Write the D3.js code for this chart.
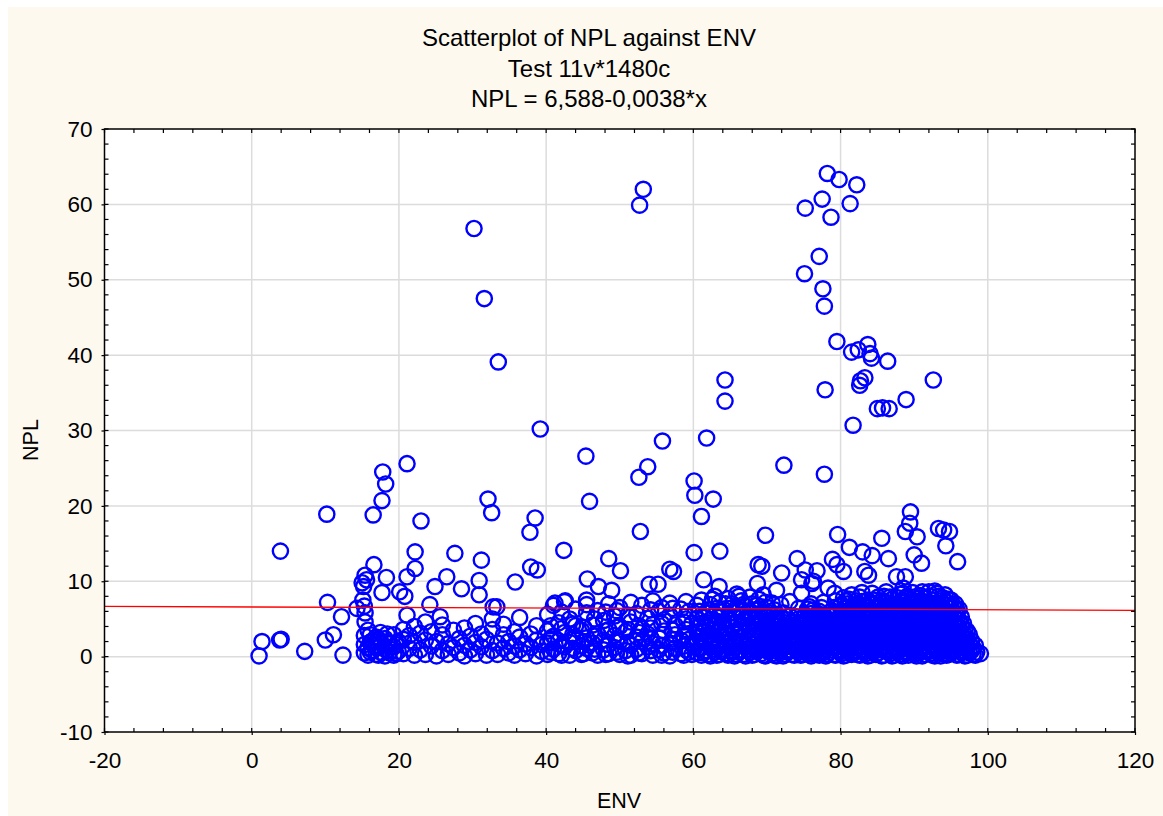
<!DOCTYPE html>
<html><head><meta charset="utf-8">
<script src="https://cdn.jsdelivr.net/npm/d3@7"></script>
<style>body{margin:0;background:#fff}svg{display:block}text{font-family:Arial,"Liberation Sans",sans-serif}</style>
</head><body><svg id="c" width="1163" height="816"></svg>
<script>
const titleLines = ["Scatterplot of NPL against ENV", "Test 11v*1480c", "NPL = 6,588-0,0038*x"];
const xLabel = "ENV", yLabel = "NPL";
const xTicks = [-20, 0, 20, 40, 60, 80, 100, 120];
const yTicks = [-10, 0, 10, 20, 30, 40, 50, 60, 70];
const fitIntercept = 6.588, fitSlope = -0.0038;

// dense band: [ENV, [NPL values...]]
const bandCols = [
[15.3,[0.5,1.6,2.8]],[15.8,[0.2,1.2,3.5]],[16.4,[0.8,2.1]],[16.9,[0.3,1.5,2.6]],[17.5,[0.6,1.9,3.2]],
[18.1,[0.1,1.0,2.4]],[18.7,[0.5,1.7]],[19.3,[0.2,1.3,2.9]],[19.9,[0.7,2.0]],
[20.6,[0.4,2.3,3.6]],[21.4,[1.1,2.8]],[22.1,[0.2,1.9,4.0]],[22.9,[0.9,3.1]],[23.6,[0.3,2.2,4.6]],
[24.4,[1.4,3.3]],[25.1,[0.1,2.0]],[25.9,[0.8,2.9,4.2]],[26.7,[0.3,1.7]],[27.4,[1.2,3.5]],
[28.2,[0.5,2.4]],[28.9,[0.1,1.5,3.8]],[29.7,[0.9,2.7]],[30.4,[0.4,1.9,4.4]],[31.2,[1.3,3.0]],
[31.9,[0.2,2.3]],[32.7,[0.8,3.6,5.0]],[33.4,[0.3,1.8]],[34.2,[1.1,2.9,4.3]],[34.9,[0.5,2.0]],
[35.7,[0.2,1.4,3.3]],[36.4,[0.9,2.6,5.2]],[37.2,[0.4,1.7]],[37.9,[1.2,3.0]],[38.7,[0.1,2.2,4.1]],[39.4,[0.7,1.6]],
[40.2,[0.3,1.8,3.4,5.6]],[41.0,[1.0,2.7,6.8]],[41.7,[0.4,2.1,4.5]],[42.5,[1.3,3.2,7.3]],[43.2,[0.2,1.9,5.0]],
[44.0,[0.8,2.6,4.1,6.3]],[44.8,[0.3,1.4,3.5]],[45.5,[1.1,2.5,5.8,7.5]],[46.3,[0.5,1.8,4.2]],[47.0,[0.2,3.0,6.1]],
[47.8,[0.9,2.2,4.8]],[48.5,[0.4,1.6,3.6,7.0]],[49.3,[1.2,2.8,5.4]],[50.0,[0.3,2.0,4.0,6.5]],[50.8,[0.8,3.3]],
[51.5,[0.2,1.5,4.6,7.2]],[52.3,[1.0,2.6,5.7]],[53.0,[0.4,2.0,3.7,6.8]],[53.8,[1.3,3.0,5.1]],[54.5,[0.2,1.7,4.3,7.4]],
[55.3,[0.9,2.5,6.0]],[56.0,[0.5,3.4,4.9]],[56.8,[0.1,1.8,5.5,7.1]],[57.5,[1.1,2.9,4.2]],[58.3,[0.4,2.2,6.3]],
[59.0,[0.9,3.6,5.0,7.3]],[59.8,[0.3,1.6,4.4]],
[60.5,[0.5,1.9,3.3,5.1,6.8]],[61.1,[0.2,1.2,2.7,4.4,7.5]],[61.7,[0.8,2.2,3.9,5.8]],[62.3,[0.1,1.5,3.0,4.9,6.9]],
[62.9,[0.6,2.4,4.1,5.6,8.0]],[63.5,[0.3,1.8,3.5,5.2,7.2]],[64.1,[1.0,2.6,4.6,6.3]],[64.7,[0.2,1.4,3.1,5.0,7.7]],
[65.3,[0.7,2.3,3.8,5.9,7.0]],[65.9,[0.3,1.7,2.9,4.5,6.5,8.3]],[66.5,[0.9,2.5,4.0,5.5,7.4]],[67.1,[0.1,1.4,3.3,5.1,6.7]],
[67.7,[0.6,2.0,3.7,5.8,7.9]],[68.3,[0.3,1.6,2.8,4.4,6.2]],[68.9,[1.0,2.4,4.0,5.3,7.6]],[69.5,[0.2,1.8,3.5,5.9,8.2]],
[70.1,[0.7,2.1,3.2,4.7,6.5]],[70.7,[0.4,1.5,2.9,4.3,7.1]],[71.3,[0.1,1.2,2.6,4.0,5.6]],[71.9,[0.8,2.2,3.6,5.2,6.9]],
[72.5,[0.3,1.6,3.0,4.5]],[73.1,[0.9,2.4,3.8,5.4,7.3]],[73.7,[0.2,1.3,2.8,4.2]],[74.3,[0.6,2.0,3.4,5.0,6.4]],[74.9,[0.3,1.5,2.7,4.1]],
[75.5,[0.4,1.5,2.6,3.8,4.9,6.3]],[76.0,[0.1,1.1,2.2,3.4,4.5,5.7,7.0]],[76.6,[0.6,1.8,2.9,4.1,5.2]],
[77.1,[0.2,1.3,2.5,3.6,4.8,6.0]],[77.7,[0.7,1.9,3.1,4.3,5.5,7.2]],[78.2,[0.3,1.4,2.6,3.8,5.0]],
[78.8,[0.9,2.1,3.3,4.5,6.1]],[79.3,[0.2,1.5,2.7,3.9,5.6,7.4]],[79.9,[0.6,1.8,3.0,4.2,5.4,6.7]],
[80.4,[0.1,1.2,2.4,3.6,4.8,6.0,7.8]],[81.0,[0.7,1.9,3.1,4.3,5.5,7.0]],[81.5,[0.3,1.5,2.7,3.9,5.1,6.4,8.2]],
[82.1,[0.8,2.0,3.2,4.4,5.7,7.4]],[82.6,[0.2,1.4,2.6,3.8,5.0,6.2,7.9]],[83.2,[0.6,1.8,3.0,4.2,5.4,6.8]],
[83.7,[0.1,1.3,2.5,3.7,4.9,6.1,7.5]],[84.3,[0.7,1.9,3.1,4.3,5.5,6.9,8.4]],[84.8,[0.3,1.5,2.7,3.9,5.1,6.4]],
[85.4,[0.9,2.1,3.3,4.5,5.8,7.2]],[85.9,[0.2,1.4,2.6,3.8,5.0,6.3,8.0]],[86.5,[0.6,1.8,3.0,4.2,5.4,6.7]],
[87.0,[0.1,1.3,2.5,3.7,4.9,6.1,7.6]],[87.6,[0.8,2.0,3.2,4.4,5.6,7.0]],[88.1,[0.3,1.5,2.7,3.9,5.1,6.4,8.3]],
[88.7,[0.7,1.9,3.1,4.3,5.5,6.8]],[89.2,[0.2,1.4,2.6,3.8,5.0,6.2,7.7]],[89.8,[0.6,1.8,3.0,4.2,5.4,6.9,8.5]],
[90.3,[0.1,1.3,2.5,3.7,4.9,6.1,7.3]],[90.9,[0.8,2.0,3.2,4.4,5.6,7.0,8.1]],[91.4,[0.3,1.5,2.7,3.9,5.1,6.4,7.8]],
[92.0,[0.7,1.9,3.1,4.3,5.5,6.8,8.6]],[92.5,[0.2,1.4,2.6,3.8,5.0,6.3,7.5]],[93.1,[0.6,1.8,3.0,4.2,5.4,6.7,8.4]],
[93.6,[0.1,1.3,2.5,3.7,4.9,6.1,7.4]],[94.2,[0.8,2.0,3.2,4.4,5.6,6.9,8.2]],[94.7,[0.3,1.5,2.7,3.9,5.1,6.4,7.6]],
[95.3,[0.7,1.9,3.1,4.3,5.5,6.8]],[95.8,[0.2,1.4,2.6,3.8,5.0,6.2]],[96.4,[0.6,1.8,3.0,4.2,5.3]],
[96.9,[0.1,1.2,2.4,3.6]],[97.5,[0.5,1.7,2.9]],[98.0,[0.3,1.2]],[98.5,[0.6]],[99.0,[0.4]]
];

// extra band points filling between the columns above
const bandFill = [
[16.1,[0.6,1.9,2.9]],[17.2,[0.2,1.2,2.3]],[18.4,[0.8,1.9,3.0]],[19.6,[0.4,1.6]],
[40.6,[0.6,2.4,4.1]],[42.1,[0.2,1.5,3.7,5.9]],[43.6,[1.1,2.9,4.3]],[45.1,[0.4,2.0,3.9]],[46.6,[1.0,2.7,5.0]],
[48.1,[0.3,3.4,5.9]],[49.6,[0.6,2.2,3.9,6.1]],[51.1,[0.1,1.9,3.6,5.5]],[52.6,[0.5,3.2,4.1]],[54.2,[0.8,2.5,3.8,6.2]],
[55.7,[0.2,1.5,4.4,6.5]],[57.2,[0.6,2.3,3.5,6.4]],[58.7,[0.2,1.4,2.8,4.6]],[59.4,[0.6,2.3,6.0]],
[60.8,[1.1,2.6,4.0,6.0]],[61.4,[0.5,1.8,3.4,5.2]],[62.0,[0.3,2.8,4.5,6.2]],[62.6,[1.0,2.0,3.6,7.6]],[63.2,[0.2,1.3,4.7,6.4]],
[63.8,[0.7,2.9,4.2,5.9]],[64.4,[0.4,1.9,3.7,7.0]],[65.0,[1.2,2.7,4.8,6.4]],[65.6,[0.1,1.3,3.4,5.3]],[66.2,[0.6,2.0,3.6,6.1,8.0]],
[66.8,[0.3,1.8,4.7,6.9]],[67.4,[1.0,2.6,4.2,6.0]],[68.0,[0.2,1.2,3.2,5.3,7.0]],[68.6,[0.7,2.0,3.6,5.0,6.8]],[69.2,[0.4,1.4,3.0,4.6,6.6]],
[69.8,[0.1,1.1,2.6,4.2,5.5,7.2]],[70.4,[0.9,2.5,3.8,5.8]],[71.0,[0.2,1.9,3.5,5.0,6.2]],[71.6,[0.6,1.7,3.1,4.6]],[72.2,[0.1,1.1,2.5,4.0,5.8]],
[72.8,[0.6,2.0,3.4,4.9]],[73.4,[0.3,1.7,3.0,4.6]],[74.0,[0.9,2.3,3.9,5.3]],[74.6,[0.2,1.1,3.0,4.6]],
[75.2,[0.9,2.0,3.2,4.4,5.5]],[75.8,[0.5,1.7,2.9,4.0,5.2,6.6]],[76.3,[0.3,1.4,2.6,3.7,4.9,6.2]],[76.9,[0.8,2.0,3.2,4.4,5.7]],
[77.4,[0.4,1.6,2.8,4.0,5.1,6.5]],[78.0,[0.1,1.0,2.2,3.4,4.6]],[78.5,[0.6,1.8,3.0,4.1,5.4]],[79.1,[0.3,1.2,2.4,3.6,4.8,6.5]],
[79.6,[0.9,2.1,3.3,4.6,5.9]],[80.1,[0.4,1.6,2.9,4.1,5.3,6.9]],[80.7,[0.2,1.4,2.6,3.8,5.0,6.4,7.4]],[81.2,[1.0,2.2,3.4,4.7,5.9,7.6]],
[81.8,[0.5,1.7,2.9,4.1,5.3,6.8]],[82.3,[0.3,1.1,2.3,3.5,4.8,6.0,7.0]],[82.9,[0.9,2.1,3.3,4.6,5.8,7.3,8.5]],[83.4,[0.4,1.6,2.8,4.0,5.2,6.5]],
[84.0,[0.2,1.0,2.2,3.4,4.6,5.9,7.1]],[84.5,[0.9,2.1,3.3,4.6,5.8,7.5]],[85.1,[0.5,1.7,2.9,4.1,5.3,6.6,7.9]],[85.6,[0.1,1.1,2.3,3.5,4.7,6.0,7.4]],
[86.2,[0.9,2.1,3.3,4.5,5.8,7.2,8.6]],[86.7,[0.4,1.6,2.8,4.0,5.2,6.5,7.9]],[87.3,[0.2,1.0,2.2,3.4,4.6,5.9,6.9]],[87.8,[0.6,1.8,3.0,4.2,5.4,6.7,7.8]],
[88.4,[0.1,1.2,2.4,3.6,4.8,6.0,7.4]],[88.9,[0.5,1.6,2.8,4.0,5.2,6.5,7.9]],[89.5,[0.9,2.1,3.3,4.5,5.8,7.2]],[90.0,[0.3,1.5,2.7,3.9,5.1,6.5,7.9]],
[90.6,[0.5,1.7,2.9,4.1,5.3,6.6,7.7]],[91.1,[0.1,1.1,2.3,3.5,4.7,6.0,7.3,8.6]],[91.7,[0.9,2.1,3.3,4.5,5.8,7.2]],[92.2,[0.4,1.6,2.8,4.0,5.2,6.5,8.0]],
[92.8,[0.1,1.1,2.3,3.5,4.7,6.0,7.1,8.7]],[93.3,[0.9,2.1,3.3,4.5,5.8,7.0,8.0]],[93.9,[0.4,1.6,2.8,4.0,5.2,6.5,7.8]],[94.4,[0.2,1.1,2.3,3.5,4.7,6.0,7.2]],
[95.0,[0.5,1.7,2.9,4.1,5.3,6.6,7.5]],[95.6,[0.9,2.1,3.3,4.5,5.7,7.0]],[96.1,[0.3,1.5,2.7,3.9,4.8,6.3]],[96.7,[0.8,2.0,3.1,4.4]],
[97.2,[0.2,1.3,2.3,3.4]],[97.8,[0.8,2.1]],[98.3,[0.2,1.5]]
];

// individually read points: [ENV, NPL]
const scatterPts = [
[1.0,0.1],[1.4,2.0],[3.8,2.2],[4.0,2.3],[3.9,14.0],[7.2,0.7],[10.2,18.9],[10.3,7.2],[10.0,2.2],[11.1,2.9],
[12.2,5.3],[12.4,0.2],[14.3,6.4],[15.4,5.8],[15.4,4.6],[15.2,9.3],[15.4,10.8],[15.0,9.8],[15.6,10.2],[15.1,7.5],[15.3,6.7],
[16.6,12.2],[16.5,18.8],[17.7,20.7],[18.2,22.9],[17.8,24.5],[18.3,10.5],[17.7,8.5],[21.1,25.6],[23.0,18.0],
[20.1,8.6],[20.8,8.0],[21.1,10.6],[22.2,13.9],[22.2,11.7],[21.1,5.5],[24.9,9.3],[26.5,10.6],[28.5,9.0],[24.2,6.9],
[25.6,5.3],[27.6,13.7],[31.2,12.8],[30.9,10.1],[30.9,8.2],[32.1,20.9],[32.6,19.1],[32.8,6.6],[33.3,6.6],
[30.2,56.8],[31.6,47.5],[33.5,39.1],[39.2,30.2],[35.8,9.9],[37.9,11.9],[38.8,11.5],[38.5,18.4],[37.8,16.5],
[42.4,14.1],[41.2,7.1],[42.6,7.4],[45.5,6.9],[45.4,26.6],[45.9,20.6],[45.6,10.3],[47.1,9.3],[48.9,8.8],
[48.5,13.0],[50.1,11.4],[52.7,59.9],[53.2,62.0],[53.8,25.2],[52.6,23.8],[52.8,16.6],[54.0,9.6],[55.2,9.6],
[55.8,28.6],[56.8,11.6],[57.3,11.3],[60.1,23.3],[60.2,21.4],[62.7,20.9],[61.1,18.6],[61.8,29.0],[60.1,13.8],
[63.6,14.0],[61.4,10.2],[63.5,9.3],[64.3,36.7],[64.3,33.9],[69.8,16.1],[68.8,12.2],[69.3,12.0],[68.7,9.7],
[71.3,8.8],[72.0,11.1],[72.3,25.4],[74.1,13.0],[74.7,8.4],[75.2,11.5],[76.1,9.7],[76.8,11.4],[74.7,10.2],[76.3,10.0],
[78.3,9.1],[79.2,8.4],[78.9,12.9],[79.5,12.2],[80.4,11.3],[77.8,24.2],[79.6,16.2],[81.2,14.5],[83.0,13.9],
[84.3,13.4],[86.5,13.0],[85.6,15.7],[83.3,11.3],[83.8,10.8],[87.6,10.6],[88.8,10.6],[88.5,9.1],[88.5,8.4],
[89.5,19.2],[89.4,17.7],[88.8,16.6],[90.4,15.9],[93.3,17.0],[94.0,16.8],[94.8,16.6],[94.3,14.7],[95.9,12.6],
[90.0,13.5],[91.0,12.4],[81.7,30.7],[85.0,32.9],[85.7,33.0],[86.6,32.9],[88.9,34.1],[92.6,36.7],[77.9,35.4],
[82.6,36.0],[82.7,36.6],[83.3,37.0],[86.4,39.2],[84.2,39.6],[84.0,40.2],[83.7,41.4],[82.4,40.7],[81.5,40.4],
[79.5,41.8],[77.8,46.5],[77.6,48.8],[75.1,50.8],[77.1,53.1],[78.7,58.3],[75.2,59.5],[77.5,60.7],[81.3,60.1],
[82.2,62.6],[79.8,63.3],[78.2,64.1]
];

const points = [];
bandCols.forEach(([xv, ys]) => ys.forEach(yv => points.push([xv, yv])));
bandFill.forEach(([xv, ys]) => ys.forEach(yv => points.push([xv, yv])));
scatterPts.forEach(p => points.push(p));

const svg = d3.select("#c");
const x = d3.scaleLinear().domain([-20, 120]).range([104.5, 1135]);
const y = d3.scaleLinear().domain([-10, 70]).range([732, 129]);

svg.append("rect").attr("x", 8).attr("y", 7).attr("width", 1155).attr("height", 809).attr("fill", "#fdf9ef");
svg.append("rect").attr("x", x(-20)).attr("y", y(70)).attr("width", x(120) - x(-20)).attr("height", y(-10) - y(70)).attr("fill", "#fff");

// grid
const g = svg.append("g");
g.selectAll(".gx").data(xTicks.slice(1, -1)).join("line")
  .attr("x1", d => x(d)).attr("x2", d => x(d)).attr("y1", y(70)).attr("y2", y(-10))
  .attr("stroke", "#dcdcdc").attr("stroke-width", 1.5);
g.selectAll(".gy").data(yTicks.slice(1, -1)).join("line")
  .attr("y1", d => y(d)).attr("y2", d => y(d)).attr("x1", x(-20)).attr("x2", x(120))
  .attr("stroke", "#dcdcdc").attr("stroke-width", 1.5);

// points
svg.append("clipPath").attr("id", "pc").append("rect")
  .attr("x", x(-20)).attr("y", y(70)).attr("width", x(120) - x(-20)).attr("height", y(-10) - y(70));
svg.append("g").attr("clip-path", "url(#pc)").selectAll("circle").data(points).join("circle")
  .attr("cx", d => x(d[0])).attr("cy", d => y(d[1])).attr("r", 7.6)
  .attr("fill", "none").attr("stroke", "#0000ff").attr("stroke-width", 2.4);

// fit line
svg.append("line").attr("x1", x(-20)).attr("x2", x(120))
  .attr("y1", y(fitIntercept + fitSlope * -20)).attr("y2", y(fitIntercept + fitSlope * 120))
  .attr("stroke", "#ff0000").attr("stroke-width", 1.3);

// minor ticks
const xMinor = d3.range(-20, 120.01, 4);
const yMinor = d3.range(-10, 70.01, 2);
const tk = svg.append("g").attr("stroke", "#000").attr("stroke-width", 1.2);
xMinor.forEach(v => {
  tk.append("line").attr("x1", x(v)).attr("x2", x(v)).attr("y1", y(-10)).attr("y2", y(-10) - 4);
  tk.append("line").attr("x1", x(v)).attr("x2", x(v)).attr("y1", y(70)).attr("y2", y(70) + 4);
});
yMinor.forEach(v => {
  tk.append("line").attr("y1", y(v)).attr("y2", y(v)).attr("x1", x(-20)).attr("x2", x(-20) + 4);
  tk.append("line").attr("y1", y(v)).attr("y2", y(v)).attr("x1", x(120)).attr("x2", x(120) - 4);
});

// axes (labels + major ticks)
const fmt = d => String(d);
const ax = svg.append("g").attr("transform", `translate(0,${y(-10)})`)
  .call(d3.axisBottom(x).tickValues(xTicks).tickFormat(fmt).tickSizeInner(3).tickSizeOuter(0).tickPadding(17));
const ay = svg.append("g").attr("transform", `translate(${x(-20)},0)`)
  .call(d3.axisLeft(y).tickValues(yTicks).tickFormat(fmt).tickSizeInner(3).tickSizeOuter(0).tickPadding(9));
[ax, ay].forEach(a => {
  a.select(".domain").remove();
  a.selectAll("text").attr("font-size", 22.5).attr("fill", "#000").attr("font-family", "Arial, 'Liberation Sans', sans-serif");
  a.selectAll("line").attr("stroke", "#000").attr("stroke-width", 1.2);
});

// frame
svg.append("rect").attr("x", x(-20)).attr("y", y(70)).attr("width", x(120) - x(-20)).attr("height", y(-10) - y(70))
  .attr("fill", "none").attr("stroke", "#000").attr("stroke-width", 1.5);

// titles
svg.selectAll(".title").data(titleLines).join("text")
  .attr("x", 589).attr("y", (d, i) => 46 + i * 30.5).attr("text-anchor", "middle")
  .attr("font-size", 24).attr("fill", "#000").text(d => d);

svg.append("text").attr("x", 619).attr("y", 808).attr("text-anchor", "middle").attr("font-size", 21.5).text(xLabel);
svg.append("text").attr("transform", "translate(38,440) rotate(-90)").attr("text-anchor", "middle").attr("font-size", 21.5).text(yLabel);
</script></body></html>
